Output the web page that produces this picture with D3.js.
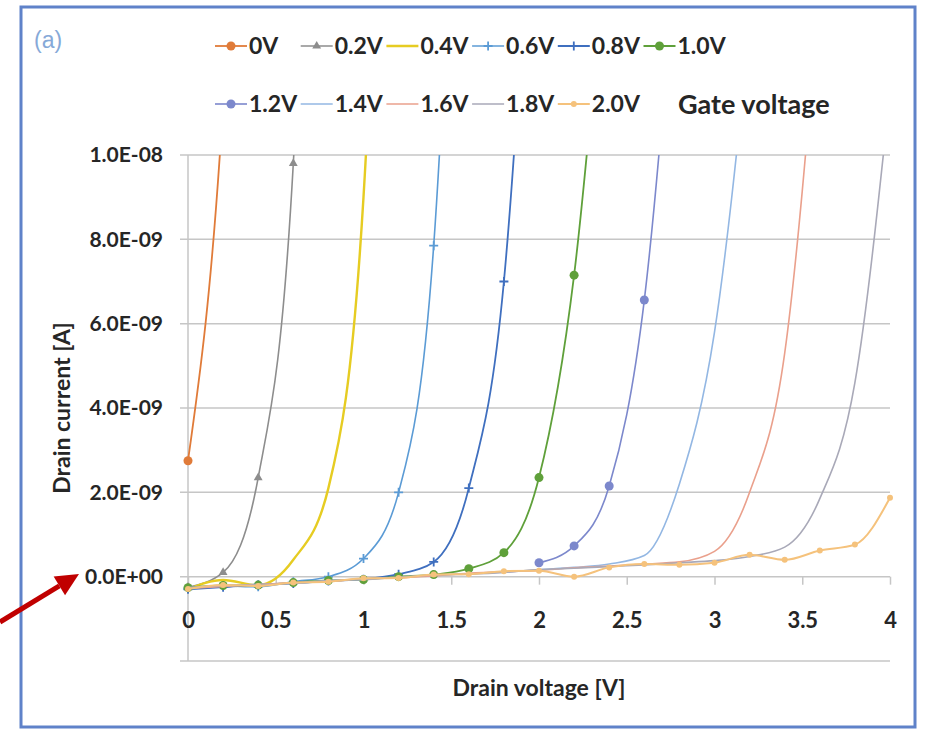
<!DOCTYPE html>
<html>
<head>
<meta charset="utf-8">
<script src="https://cdn.jsdelivr.net/npm/d3@7"></script>
<style>
  body { margin: 0; background: #fff; }
  svg text {
    font-family: Lato, "Open Sans", sans-serif;
    font-weight: bold;
    fill: #262626;
  }
</style>
</head>
<body>
<svg id="chart" width="928" height="732"></svg>
<script>
// drain voltage sweep [V]
const drainVoltage = [0, 0.2, 0.4, 0.6, 0.8, 1.0, 1.2, 1.4, 1.6, 1.8, 2.0, 2.2, 2.4, 2.6, 2.8, 3.0, 3.2, 3.4, 3.6, 3.8, 4.0];

// drain current per gate voltage, in nA (null = no point / far off the chart)
const id_0V  = [2.75, 11.2, 30, null, null, null, null, null, null, null, null, null, null, null, null, null, null, null, null, null, null];
const id_02V = [-0.25, 0.1, 2.35, 9.8, 36, null, null, null, null, null, null, null, null, null, null, null, null, null, null, null, null];
const id_04V = [-0.3, -0.08, -0.2, 0.4, 2.1, 9.0, 30, null, null, null, null, null, null, null, null, null, null, null, null, null, null];
const id_06V = [-0.28, -0.22, -0.24, -0.12, 0.0, 0.43, 2.0, 7.85, 26, null, null, null, null, null, null, null, null, null, null, null, null];
const id_08V = [-0.3, -0.25, -0.19, -0.16, -0.1, -0.06, 0.06, 0.35, 2.1, 7.0, 20, null, null, null, null, null, null, null, null, null, null];
const id_10V = [-0.26, -0.21, -0.2, -0.14, -0.09, -0.07, 0.0, 0.05, 0.19, 0.57, 2.35, 7.15, 16, null, null, null, null, null, null, null, null];
const id_12V = [null, null, null, null, null, null, null, null, null, null, 0.33, 0.73, 2.15, 6.56, 16, null, null, null, null, null, null];
const id_14V = [-0.27, -0.22, -0.18, -0.15, -0.1, -0.06, -0.02, 0.03, 0.07, 0.11, 0.16, 0.22, 0.3, 0.5, 2.2, 5.8, 13, null, null, null, null];
const id_16V = [-0.28, -0.23, -0.19, -0.14, -0.11, -0.05, -0.03, 0.02, 0.08, 0.12, 0.15, 0.21, 0.25, 0.3, 0.35, 0.6, 2.0, 5.3, 14, null, null];
const id_18V = [-0.26, -0.21, -0.2, -0.16, -0.09, -0.07, -0.01, 0.04, 0.06, 0.1, 0.17, 0.2, 0.24, 0.28, 0.33, 0.38, 0.48, 0.7, 1.85, 4.6, 11.5];
const id_20V = [-0.29, -0.2, -0.22, -0.14, -0.12, -0.04, -0.03, 0.05, 0.06, 0.13, 0.14, 0.0, 0.22, 0.3, 0.28, 0.33, 0.52, 0.4, 0.62, 0.76, 1.87];

const gateLabels = ["0V", "0.2V", "0.4V", "0.6V", "0.8V", "1.0V", "1.2V", "1.4V", "1.6V", "1.8V", "2.0V"];
const gateSeries = [id_0V, id_02V, id_04V, id_06V, id_08V, id_10V, id_12V, id_14V, id_16V, id_18V, id_20V];

// axis ticks
const xTicks = [0, 0.5, 1, 1.5, 2, 2.5, 3, 3.5, 4];
const yGrid = [-2e-9, 0, 2e-9, 4e-9, 6e-9, 8e-9, 1e-8];
const yTicks = [0, 2e-9, 4e-9, 6e-9, 8e-9, 1e-8];
const yTickLabels = ["0.0E+00", "2.0E-09", "4.0E-09", "6.0E-09", "8.0E-09", "1.0E-08"];

// styles per series
const colors  = ["#e07b39", "#8d8d8d", "#e6cc22", "#5b9bd5", "#3f6fbf", "#5fa03a", "#7c88cc", "#93b7e3", "#eaa08c", "#a9a9b8", "#f5c27c"];
const markers = ["circle", "triangle", "none", "plus", "plus", "circle", "circle", "none", "none", "none", "dot"];
const widths  = [1.8, 1.6, 2.4, 1.6, 1.8, 1.8, 1.6, 1.6, 1.6, 1.6, 2];

const svg = d3.select("#chart");

const x = d3.scaleLinear().domain([0, 4]).range([188, 890]);
const y = d3.scaleLinear().domain([-2e-9, 1e-8]).range([661, 155]);

// outer frame
svg.append("rect")
    .attr("x", 21).attr("y", 7)
    .attr("width", 894).attr("height", 720)
    .attr("fill", "#fff")
    .attr("stroke", "#5f82c9")
    .attr("stroke-width", 3);

svg.append("text")
    .attr("x", 34).attr("y", 48)
    .style("font-family", "'Liberation Sans', sans-serif")
    .style("font-weight", "normal")
    .style("font-size", "23px")
    .style("fill", "#86a9d8")
    .text("(a)");

// gridlines (with the little outside ticks on the left)
svg.append("g")
    .selectAll("line")
    .data(yGrid)
    .enter()
    .append("line")
    .attr("x1", x(0) - 8)
    .attr("x2", x(4))
    .attr("y1", d => y(d))
    .attr("y2", d => y(d))
    .attr("stroke", "#c6c6c6")
    .attr("stroke-width", 1.5);

// vertical axis line
svg.append("line")
    .attr("x1", x(0)).attr("x2", x(0))
    .attr("y1", y(1e-8)).attr("y2", y(-2e-9))
    .attr("stroke", "#c6c6c6")
    .attr("stroke-width", 1.5);

// y tick labels
let yAxis = d3.axisLeft(y)
    .tickValues(yTicks)
    .tickSize(0)
    .tickPadding(25)
    .tickFormat((d, i) => yTickLabels[i]);

svg.append("g")
    .attr("transform", `translate(${x(0)},0)`)
    .call(yAxis)
    .call(g => g.select(".domain").remove())
    .selectAll("text")
    .style("font-size", "21px");

// x axis sitting on zero current
let xAxis = d3.axisBottom(x)
    .tickValues(xTicks)
    .tickSize(8)
    .tickPadding(28)
    .tickFormat(d3.format("~g"));

let xg = svg.append("g")
    .attr("transform", `translate(0,${y(0)})`)
    .call(xAxis);
xg.select(".domain").remove();
xg.selectAll("line").attr("stroke", "#c6c6c6").attr("stroke-width", 1.5);
xg.selectAll("text").style("font-size", "22px");

// axis titles
svg.append("text")
    .attr("x", (x(0) + x(4)) / 2)
    .attr("y", 696)
    .attr("text-anchor", "middle")
    .style("font-size", "23px")
    .text("Drain voltage [V]");

svg.append("text")
    .attr("transform", `translate(70,${(y(1e-8) + y(-2e-9)) / 2}) rotate(-90)`)
    .attr("text-anchor", "middle")
    .style("font-size", "23px")
    .text("Drain current [A]");

// curves
svg.append("clipPath")
    .attr("id", "plot-clip")
    .append("rect")
    .attr("x", x(0) - 8).attr("y", y(1e-8))
    .attr("width", x(4) - x(0) + 16)
    .attr("height", y(-2e-9) - y(1e-8));

let line = d3.line()
    .defined(d => d.id != null)
    .x(d => x(d.vd))
    .y(d => y(d.id * 1e-9))
    .curve(d3.curveMonotoneX);

function drawMarker(sel, type, color) {
    if (type === "circle") {
        sel.append("circle").attr("r", 4.5).attr("fill", color);
    } else if (type === "dot") {
        sel.append("circle").attr("r", 3).attr("fill", color);
    } else if (type === "triangle") {
        sel.append("path").attr("d", d3.symbol(d3.symbolTriangle, 34)()).attr("fill", color);
    } else if (type === "plus") {
        sel.append("path").attr("d", "M-4.5,0H4.5M0,-4.5V4.5")
            .attr("stroke", color).attr("stroke-width", 1.8).attr("fill", "none");
    }
}

let curves = svg.append("g");
gateSeries.forEach((vals, s) => {
    let pts = drainVoltage.map((vd, i) => ({vd: vd, id: vals[i]}));

    curves.append("path")
        .datum(pts)
        .attr("clip-path", "url(#plot-clip)")
        .attr("fill", "none")
        .attr("stroke", colors[s])
        .attr("stroke-width", widths[s])
        .attr("d", line);

    if (markers[s] !== "none") {
        let shown = pts.filter(d => d.id != null && d.id * 1e-9 <= 1e-8 && d.id * 1e-9 >= -2e-9);
        curves.append("g")
            .selectAll("g")
            .data(shown)
            .enter()
            .append("g")
            .attr("transform", d => `translate(${x(d.vd)},${y(d.id * 1e-9)})`)
            .each(function () { drawMarker(d3.select(this), markers[s], colors[s]); });
    }
});

// legend: 6 entries on row one, 5 plus the title on row two
let legend = svg.append("g");
gateLabels.forEach((lab, s) => {
    let row = s < 6 ? 0 : 1;
    let col = s < 6 ? s : s - 6;
    let g = legend.append("g")
        .attr("transform", `translate(${215 + col * 85.7},${row === 0 ? 46 : 104})`);
    g.append("line")
        .attr("x1", 0).attr("x2", 32)
        .attr("stroke", colors[s])
        .attr("stroke-width", widths[s]);
    let m = g.append("g").attr("transform", "translate(16,0)");
    drawMarker(m, markers[s], colors[s]);
    g.append("text")
        .attr("x", 34)
        .attr("dy", "0.36em")
        .style("font-size", "23px")
        .text(lab);
});
legend.append("text")
    .attr("x", 678).attr("y", 104)
    .attr("dy", "0.36em")
    .style("font-size", "27px")
    .text("Gate voltage");

// red arrow pointing at the zero label
let tail = [0, 622], tip = [79, 574];
let len = Math.hypot(tip[0] - tail[0], tip[1] - tail[1]);
let ux = (tip[0] - tail[0]) / len, uy = (tip[1] - tail[1]) / len;
let head = 23, half = 11;
let base = [tip[0] - head * ux, tip[1] - head * uy];
svg.append("line")
    .attr("x1", tail[0]).attr("y1", tail[1])
    .attr("x2", base[0]).attr("y2", base[1])
    .attr("stroke", "#c00000")
    .attr("stroke-width", 5);
svg.append("path")
    .attr("d", `M${tip[0]},${tip[1]}L${base[0] - half * uy},${base[1] + half * ux}L${base[0] + half * uy},${base[1] - half * ux}Z`)
    .attr("fill", "#c00000");
</script>
</body>
</html>
